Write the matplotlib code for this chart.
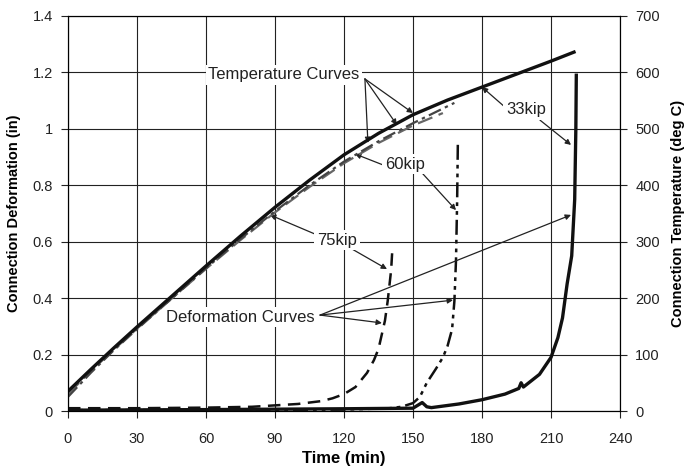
import numpy as np
import matplotlib
matplotlib.use("Agg")
import matplotlib.pyplot as plt
from matplotlib.ticker import FuncFormatter

plt.rcParams['font.family'] = ['Liberation Sans', 'DejaVu Sans']

# temperature curves (deg C)
t_temp_33 = [0, 10, 20, 30, 45, 60, 75, 90, 105, 120, 135, 150, 165, 180, 195, 210, 220]
temp_33 = [35, 74, 112, 149, 203, 257, 310, 361, 409, 454, 492, 525, 551, 574, 597, 620, 636]
t_temp_60 = [0, 10, 20, 30, 45, 60, 75, 90, 105, 120, 135, 150, 160, 168]
temp_60 = [25, 68, 108, 145, 199, 253, 305, 354, 400, 442, 478, 510, 530, 546]
t_temp_75 = [0, 10, 20, 30, 45, 60, 75, 90, 105, 120, 135, 150, 163]
temp_75 = [30, 71, 109, 146, 199, 252, 303, 352, 397, 439, 475, 506, 528]

# deformation curves (in)
t_def_33 = [0, 60, 120, 150, 152, 154, 156, 158, 170, 180, 190, 196, 197, 198, 205, 210, 213, 215, 217, 219, 220.3, 220.8, 221]
def_33 = [0.003, 0.005, 0.008, 0.01, 0.02, 0.03, 0.015, 0.012, 0.025, 0.04, 0.06, 0.08, 0.1, 0.085, 0.13, 0.19, 0.26, 0.33, 0.45, 0.55, 0.75, 1.0, 1.19]
t_def_60 = [0, 120, 140, 145, 150, 153, 156, 160, 163, 165, 167, 168, 168.7, 169.2, 169.5]
def_60 = [0.003, 0.005, 0.01, 0.015, 0.028, 0.05, 0.1, 0.15, 0.19, 0.23, 0.29, 0.39, 0.535, 0.75, 0.95]
t_def_75 = [0, 30, 60, 80, 90, 100, 110, 115, 120, 125, 130, 133, 135, 137.8, 139, 140.5, 141]
def_75 = [0.01, 0.01, 0.012, 0.015, 0.02, 0.025, 0.035, 0.045, 0.06, 0.085, 0.135, 0.18, 0.22, 0.32, 0.39, 0.5, 0.57]

fig = plt.figure(figsize=(6.86, 4.70), dpi=100)
ax = fig.add_axes([0.0991, 0.1255, 0.8047, 0.8405])
ax2 = ax.twinx()

ax.set_xlim(0, 240)
ax.set_ylim(0, 1.4)
ax2.set_ylim(0, 700)
ax.set_xticks(np.arange(0, 241, 30))
ax.set_yticks(np.arange(0, 1.41, 0.2))
ax2.set_yticks(np.arange(0, 701, 100))
ax.yaxis.set_major_formatter(FuncFormatter(lambda v, p: '%g' % round(v, 1)))
ax.grid(True, color='#222222', lw=0.8)
ax.set_axisbelow(True)

for a in (ax, ax2):
    a.tick_params(direction='out', length=5, width=0.8, labelsize=10.5, colors='#222222', pad=6)
    for s in a.spines.values():
        s.set_linewidth(0.8)
ax.tick_params(axis='x', pad=10)

# temperature curves on right axis
ax2.plot(t_temp_75, temp_75, color='#666666', lw=1.6, ls=(0, (7, 3)))
ax2.plot(t_temp_60, temp_60, color='#444444', lw=1.6, ls=(0, (6, 2, 1.5, 2)))
ax2.plot(t_temp_33, temp_33, color='#111111', lw=2.4, solid_joinstyle='round')

# deformation curves on left axis
ax.plot(t_def_75, def_75, color='#111111', lw=1.8, ls=(0, (5, 3)))
ax.plot(t_def_60, def_60, color='#111111', lw=1.8, ls=(0, (6, 2, 1.5, 2, 1.5, 2)))
ax.plot(t_def_33, def_33, color='#111111', lw=2.4, solid_joinstyle='round')

ax.set_xlabel('Time (min)', fontweight='bold', fontsize=12, labelpad=4)
ax.set_ylabel('Connection Deformation (in)', fontweight='bold', fontsize=10.5, labelpad=8)
ax2.set_ylabel('Connection Temperature (deg C)', fontweight='bold', fontsize=10.5, labelpad=8)

box = dict(facecolor='white', edgecolor='none', pad=2)
arr = dict(arrowstyle='-|>', color='#222222', lw=0.9, mutation_scale=8, shrinkA=0, shrinkB=0)
kw = dict(fontsize=12, color='#222222', ha='center', va='center', bbox=box, zorder=5)

ax.text(93.9, 1.191, 'Temperature Curves', **kw)
for tip in [(130.4, 0.950), (143.0, 1.014), (150.0, 1.056)]:
    ax.annotate('', xy=tip, xytext=(129.1, 1.177), arrowprops=arr)

ax.text(146.5, 0.875, '60kip', **kw)
ax.annotate('', xy=(124.8, 0.911), xytext=(137.0, 0.872), arrowprops=arr)
ax.annotate('', xy=(168.7, 0.712), xytext=(153.9, 0.844), arrowprops=arr)

ax.text(199.1, 1.067, '33kip', **kw)
ax.annotate('', xy=(180.0, 1.148), xytext=(190.0, 1.077), arrowprops=arr)
ax.annotate('', xy=(218.7, 0.943), xytext=(205.2, 1.031), arrowprops=arr)

ax.text(117.0, 0.606, '75kip', **kw)
ax.annotate('', xy=(87.8, 0.695), xytext=(108.3, 0.624), arrowprops=arr)
ax.annotate('', xy=(138.7, 0.503), xytext=(123.5, 0.574), arrowprops=arr)

ax.text(74.8, 0.333, 'Deformation Curves', **kw)
for tip in [(136.5, 0.312), (167.4, 0.393), (218.7, 0.695)]:
    ax.annotate('', xy=tip, xytext=(109.6, 0.340), arrowprops=arr)

fig.savefig('out.png', dpi=100)
